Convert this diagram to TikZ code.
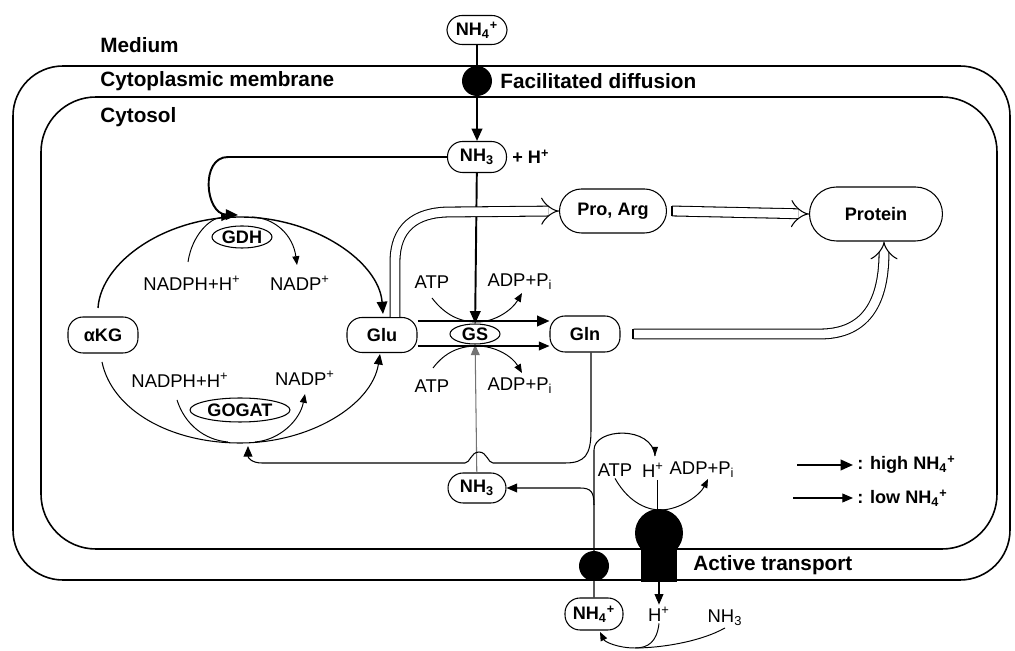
\documentclass[tikz,border=0pt]{standalone}
\usepackage{fontspec}
\setmainfont{Liberation Sans}
\usetikzlibrary{arrows.meta,shapes.geometric,positioning}

\tikzset{
  pool/.style={draw, line width=0.6pt, rounded corners=#1, inner sep=1pt,
    font=\bfseries\fontsize{10.3}{12}\selectfont},
  pool/.default=3mm,
  enz/.style={draw, ellipse, line width=0.6pt, inner sep=0pt,
    font=\bfseries\fontsize{10.3}{12}\selectfont},
  lbl/.style={inner sep=1pt, font=\fontsize{10.5}{12}\selectfont},
  head/.style={anchor=west, inner sep=0pt, font=\bfseries\fontsize{11.8}{14}\selectfont},
  pore/.style={circle, fill=black, minimum size=0.6cm, inner sep=0pt},
  hi/.style={line width=1.1pt, -{Triangle[length=7pt,width=6pt]}},
  lo/.style={line width=0.6pt, -{Triangle[length=6pt,width=5pt]}},
  side/.style={line width=0.55pt, -{Triangle[length=5pt,width=4pt]}},
  hollow/.style={double, double distance=5pt, line width=0.6pt, -{Implies[scale=1.3]}},
}

\begin{document}
\begin{tikzpicture}[x=0.02cm, y=-0.02cm]
\useasboundingbox (0,0) rectangle (1015,651);

% membranes
\draw[line width=0.9pt, rounded corners=1cm] (13,66) rectangle (1010,580);
\draw[line width=0.9pt, rounded corners=1.1cm] (41,97) rectangle (997,549);
\node[head] at (100,45) {Medium};
\node[head] at (100,81) {Cytoplasmic membrane};
\node[head] at (100,117) {Cytosol};
\node[head] at (500,81) {Facilitated diffusion};
\node[head] at (693,565) {Active transport};

% pools
\node[pool, minimum width=1.2cm, minimum height=0.58cm] (nh4top) at (477,30) {NH\textsubscript{4}\textsuperscript{+}};
\node[pool, minimum width=1.18cm, minimum height=0.62cm] (nh3top) at (477,157) {NH\textsubscript{3}};
\node[head, font=\bfseries\fontsize{10.3}{12}\selectfont] (hplus) at (512,157) {+ H\textsuperscript{+}};
\node[pool, minimum width=1.4cm, minimum height=0.72cm] (akg) at (103,335) {αKG};
\node[pool, minimum width=1.4cm, minimum height=0.7cm] (glu) at (382,335) {Glu};
\node[pool, minimum width=1.4cm, minimum height=0.72cm] (gln) at (585,334) {Gln};
\node[pool=4.4mm, minimum width=2.14cm, minimum height=0.88cm] (proarg) at (613,211) {Pro, Arg};
\node[pool=5.4mm, minimum width=2.66cm, minimum height=1.08cm] (protein) at (876,214) {Protein};
\node[pool, minimum width=1.16cm, minimum height=0.6cm] (nh3low) at (477,488) {NH\textsubscript{3}};
\node[pool, minimum width=1.16cm, minimum height=0.64cm] (nh4low) at (594,614) {NH\textsubscript{4}\textsuperscript{+}};

% enzymes
\node[enz, minimum width=1.2cm, minimum height=0.44cm] (gdh) at (242,237) {GDH};
\node[enz, minimum width=1.0cm, minimum height=0.4cm] (gs) at (475,334) {GS};
\node[enz, minimum width=2.0cm, minimum height=0.48cm] (gogat) at (240,410) {GOGAT};

% cofactors
\node[lbl] (nadph1) at (192,283) {NADPH+H\textsuperscript{+}};
\node[lbl] (nadp1) at (300,283) {NADP\textsuperscript{+}};
\node[lbl] (nadph2) at (180,380) {NADPH+H\textsuperscript{+}};
\node[lbl] (nadp2) at (305,378) {NADP\textsuperscript{+}};
\node[lbl] (atp1) at (432,282) {ATP};
\node[lbl] (adp1) at (520,282) {ADP+P\textsubscript{i}};
\node[lbl] (atp2) at (432,386) {ATP};
\node[lbl] (adp2) at (520,386) {ADP+P\textsubscript{i}};
\node[lbl] (atp3) at (615,470) {ATP};
\node[lbl] (hin) at (653,470) {H\textsuperscript{+}};
\node[lbl] (adp3) at (702,470) {ADP+P\textsubscript{i}};
\node[lbl] (hout) at (659,614) {H\textsuperscript{+}};
\node[lbl] (nh3out) at (725,618) {NH\textsubscript{3}};

% uptake
\draw[hi] (nh4top) -- (nh3top);
\draw[hi] (nh3top) -- (gs);
\draw[lo, black!55] (nh3low) -- (gs);
\draw[hi] (nh3top.west) -- (228,157) .. controls (200,157) and (205,214) .. (238,215);

% GDH / GOGAT cycle
\draw[hi, line width=0.8pt] (98,308) .. controls (101,262) and (165,217) .. (240,217)
  .. controls (315,217) and (379,262) .. (383,314);
\draw[lo] (102,362) .. controls (112,410) and (170,443) .. (240,443)
  .. controls (310,443) and (372,405) .. (380,354);
\draw[side] (188,262) .. controls (192,235) and (210,218) .. (230,217);
\draw[side] (252,217) .. controls (275,218) and (293,235) .. (297,265);
\draw[line width=0.55pt] (177,400) .. controls (185,425) and (205,440) .. (228,442);
\draw[side] (255,442) .. controls (280,440) and (300,420) .. (305,394);

% GS
\draw[hi] ([yshift=0.28cm]glu.east) -- ([yshift=0.28cm]glu.east -| gln.west);
\draw[lo] ([yshift=-0.22cm]glu.east) -- ([yshift=-0.22cm]glu.east -| gln.west);
\draw[side] (432,298) .. controls (445,315) and (460,322) .. (477,322)
  .. controls (495,322) and (512,310) .. (522,293);
\draw[side] (433,368) .. controls (445,352) and (460,346) .. (477,346)
  .. controls (495,346) and (512,356) .. (522,373);

% Gln back to GOGAT
\draw[lo] ([xshift=0.12cm]gln.south) -- (591,430) .. controls (591,455) and (585,463) .. (565,463)
  -- (493,463) .. controls (488,463) and (487,452) .. (479,452)
  .. controls (471,452) and (470,463) .. (465,463) -- (262,463)
  .. controls (252,463) and (248,458) .. (248,446);

% biosynthesis
\draw[hollow] (395,317) -- (395,262) .. controls (395,228) and (415,212) .. (450,212) -- (proarg.west);
\draw[hollow] ([xshift=0.1cm]proarg.east) -- (protein.west);
\draw[line width=0.6pt] (672,206.1) -- (672,215.9);
\draw[hollow] ([xshift=0.26cm]gln.east) -- (820,334) .. controls (860,334) and (884,310) .. ([xshift=0.16cm]protein.south);
\draw[line width=0.6pt] (633,329.1) -- (633,338.9);

% active transport
\draw[line width=0.6pt] (nh4low.north) -- (594,450) .. controls (594,428) and (652,425) .. (655,456);
\fill (655,456) -- ++(-3,-9) -- ++(6,0) -- cycle;
\draw[lo] (594,505) .. controls (594,492) and (591,488) .. (580,488) -- (nh3low.east);
\node[pore] (ntport) at (594,566) {};
\fill (659,533) circle (0.48cm);
\fill (641,535) rectangle (677,582);
\draw[line width=0.55pt] (657,480) -- (657,510);
\draw[side] (atp3.south) .. controls (630,505) and (650,510) .. (660,510)
  .. controls (680,510) and (700,495) .. (708,479);
\draw[lo] (659,582) -- (hout.north);
\draw[line width=0.55pt] (nh3out.south) .. controls (700,642) and (660,648) .. (635,648);
\draw[side] (hout.south) .. controls (657,642) and (648,648) .. (635,648)
  .. controls (618,648) and (605,642) .. (600,632);

% channel
\node[pore] (fdport) at (477,81) {};

% legend
\draw[hi] (797,465) -- (853,465);
\node[head, font=\bfseries\fontsize{10.3}{12}\selectfont] at (857,465) {: high NH\textsubscript{4}\textsuperscript{+}};
\draw[lo] (793,498) -- (853,498);
\node[head, font=\bfseries\fontsize{10.3}{12}\selectfont] at (857,498) {: low NH\textsubscript{4}\textsuperscript{+}};
\end{tikzpicture}
\end{document}
